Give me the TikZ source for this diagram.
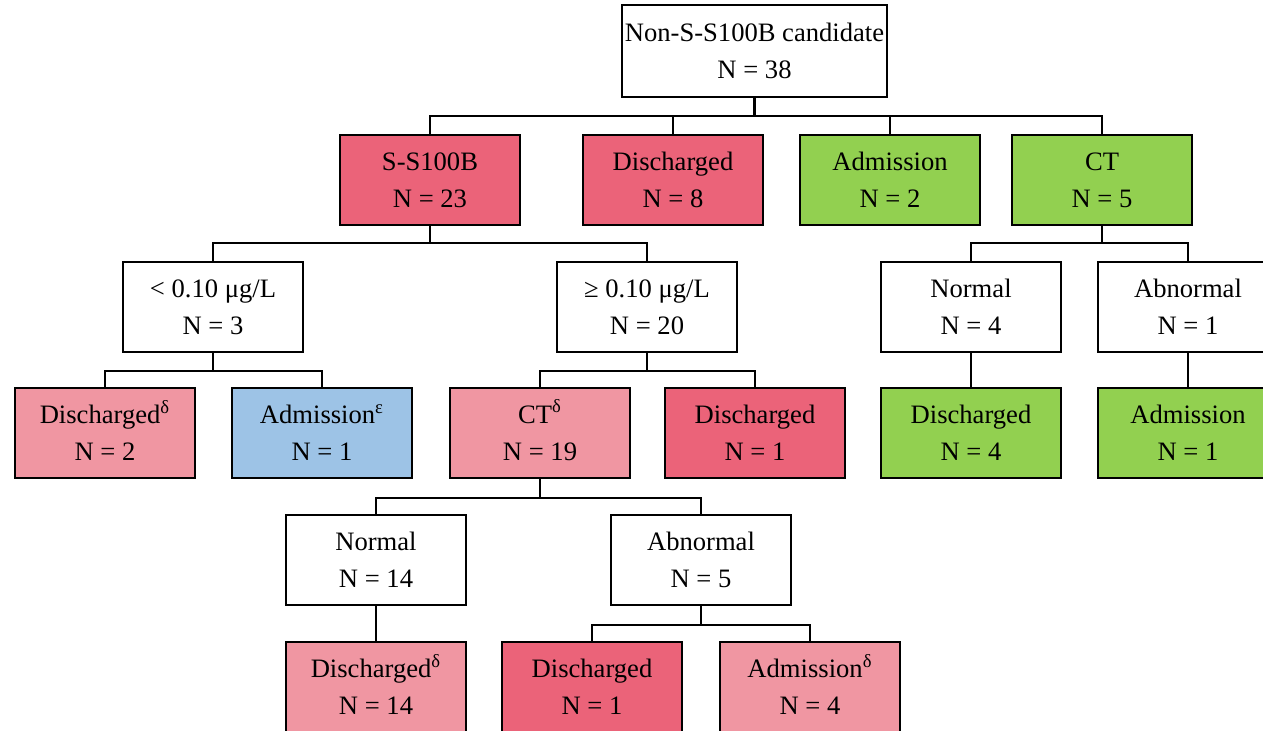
\documentclass[tikz,border=0pt]{standalone}
\usepackage{fontspec}
\setmainfont{Liberation Serif}
\usetikzlibrary{positioning}

\definecolor{darkrose}{RGB}{235,99,121}
\definecolor{lightrose}{RGB}{240,150,162}
\definecolor{leafgreen}{RGB}{146,208,80}
\definecolor{skyblue}{RGB}{157,195,230}

\newcommand{\supmark}[1]{\smash{\textsuperscript{#1}}}

\tikzset{
  box/.style={draw, line width=1.1pt, minimum width=90pt, minimum height=45pt,
    inner sep=0pt, align=center, font=\fontsize{13.3}{18.5}\selectfont},
  link/.style={line width=1.2pt},
}

\begin{document}
\begin{tikzpicture}[x=0.5pt, y=-0.5pt]
        \useasboundingbox (0,0) rectangle (1263,731);
        \clip (0,0) rectangle (1263,731);

        \node[box, minimum width=132.5pt, minimum height=46pt] (top) at (754.5,51) {Non-S-S100B candidate\\N = 38};

        \node[box, fill=darkrose]  (ss)   at (430,180)  {S-S100B\\N = 23};
        \node[box, fill=darkrose]  (dis)  at (673,180)  {Discharged\\N = 8};
        \node[box, fill=leafgreen] (adm)  at (890,180)  {Admission\\N = 2};
        \node[box, fill=leafgreen] (ct)   at (1102,180) {CT\\N = 5};

        \node[box] (low)  at (213,307)  {< 0.10 μg/L\\N = 3};
        \node[box] (high) at (647,307)  {≥ 0.10 μg/L\\N = 20};
        \node[box] (ctn)  at (971,307)  {Normal\\N = 4};
        \node[box] (cta)  at (1188,307) {Abnormal\\N = 1};

        \node[box, fill=lightrose] (d1)  at (105,433)  {Discharged\supmark{δ}\\N = 2};
        \node[box, fill=skyblue]   (a1)  at (322,433)  {Admission\supmark{ε}\\N = 1};
        \node[box, fill=lightrose] (ct2) at (540,433)  {CT\supmark{δ}\\N = 19};
        \node[box, fill=darkrose]  (d2)  at (755,433)  {Discharged\\N = 1};
        \node[box, fill=leafgreen] (d3)  at (971,433)  {Discharged\\N = 4};
        \node[box, fill=leafgreen] (a3)  at (1188,433) {Admission\\N = 1};

        \node[box] (n2)  at (376,560) {Normal\\N = 14};
        \node[box] (ab2) at (701,560) {Abnormal\\N = 5};

        \node[box, fill=lightrose] (d4) at (376,687) {Discharged\supmark{δ}\\N = 14};
        \node[box, fill=darkrose]  (d5) at (592,687) {Discharged\\N = 1};
        \node[box, fill=lightrose] (a5) at (810,687) {Admission\supmark{δ}\\N = 4};

        % branching bars
        \draw[link] (top.south) -- ++(0,18) coordinate (jtop);
        \foreach \c in {ss,dis,adm,ct} \draw[link] (jtop) -| (\c.north);

        \draw[link] (ss.south) -- ++(0,17) coordinate (jss);
        \foreach \c in {low,high} \draw[link] (jss) -| (\c.north);

        \draw[link] (ct.south) -- ++(0,17) coordinate (jct);
        \foreach \c in {ctn,cta} \draw[link] (jct) -| (\c.north);

        \draw[link] (low.south) -- ++(0,18) coordinate (jlow);
        \foreach \c in {d1,a1} \draw[link] (jlow) -| (\c.north);

        \draw[link] (high.south) -- ++(0,18) coordinate (jhigh);
        \foreach \c in {ct2,d2} \draw[link] (jhigh) -| (\c.north);

        \draw[link] (ctn.south) -- (d3.north);
        \draw[link] (cta.south) -- (a3.north);

        \draw[link] (ct2.south) -- ++(0,19) coordinate (jct2);
        \foreach \c in {n2,ab2} \draw[link] (jct2) -| (\c.north);

        \draw[link] (n2.south) -- (d4.north);

        \draw[link] (ab2.south) -- ++(0,19) coordinate (jab2);
        \foreach \c in {d5,a5} \draw[link] (jab2) -| (\c.north);
\end{tikzpicture}
\end{document}
